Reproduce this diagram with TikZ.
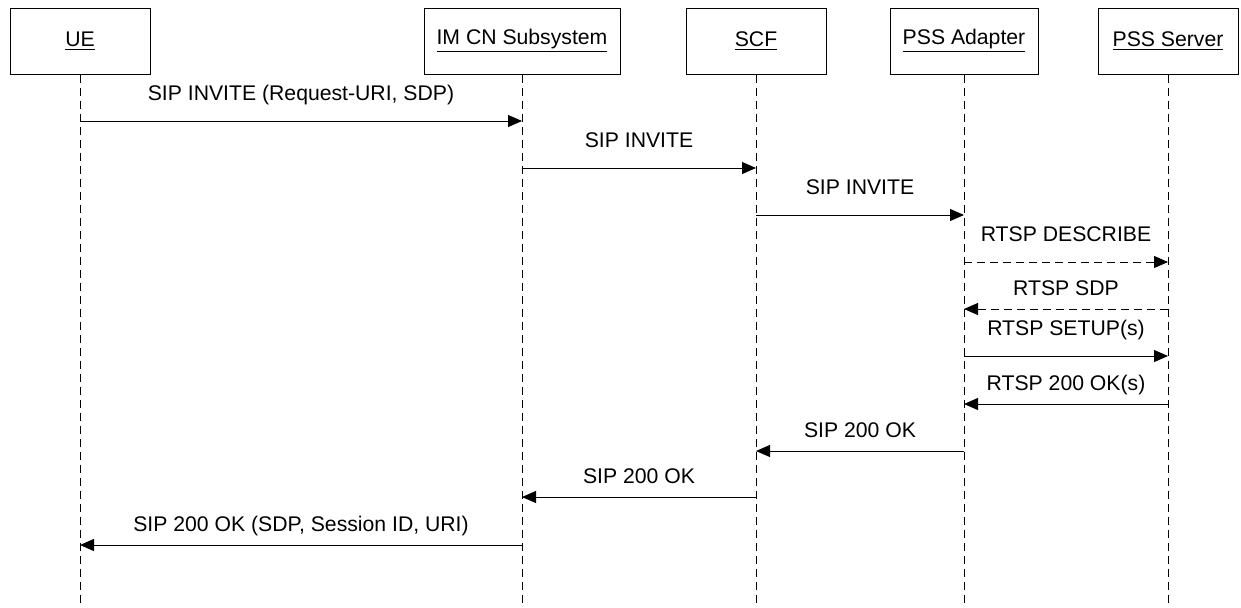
\documentclass[tikz,border=0pt]{standalone}
\usepackage{fontspec}
\setmainfont{Liberation Sans}
\usetikzlibrary{arrows.meta, positioning}

\begin{document}
\begin{tikzpicture}[x=0.5pt, y=-0.5pt,
		entity/.style={draw, line width=0.5pt, minimum height=33pt, inner sep=0pt, font=\fontsize{10.6}{12}\selectfont},
		lifeline/.style={line width=0.5pt, dash pattern=on 4pt off 2.5pt},
		msg/.style={line width=0.5pt, -{Triangle[length=7pt, width=6pt]}},
		rtsp/.style={msg, dash pattern=on 4pt off 2.5pt},
		lbl/.style={inner sep=0pt, text depth=0pt, font=\fontsize{10.6}{12}\selectfont},
		fwd/.style={lbl, above=10pt},
		back/.style={lbl, above=6.5pt}]
		\useasboundingbox (0,0) rectangle (1241,607);
		
		% entities
		\node[entity, minimum width=70pt] (ue) at (80,41) {\underline{UE}};
		\node[entity, minimum width=98pt] (ims) at (522,41) {\underline{IM CN Subsystem}};
		\node[entity, minimum width=70pt] (scf) at (756,41) {\underline{SCF}};
		\node[entity, minimum width=74pt] (pssa) at (964,41) {\underline{PSS Adapter}};
		\node[entity, minimum width=70pt] (psss) at (1168,41) {\underline{PSS Server}};
		
		% lifelines
		\coordinate (bottom) at (0,607);
		\draw[lifeline] (ue.south) -- (ue |- bottom);
		\draw[lifeline] (ims.south) -- (ims |- bottom);
		\draw[lifeline] (scf.south) -- (scf |- bottom);
		\draw[lifeline] (pssa.south) -- (pssa |- bottom);
		\draw[lifeline] (psss.south) -- (psss |- bottom);
		
		% message rows
		\coordinate (m1) at (0,121);
		\coordinate (m2) at (0,168);
		\coordinate (m3) at (0,215);
		\coordinate (m4) at (0,262);
		\coordinate (m5) at (0,309);
		\coordinate (m6) at (0,356);
		\coordinate (m7) at (0,404);
		\coordinate (m8) at (0,451);
		\coordinate (m9) at (0,497);
		\coordinate (m10) at (0,545);
		
		\draw[msg] (ue |- m1) -- node[fwd] {SIP INVITE (Request-URI, SDP)} (ims |- m1);
		\draw[msg] (ims |- m2) -- node[fwd] {SIP INVITE} (scf |- m2);
		\draw[msg] (scf |- m3) -- node[fwd] {SIP INVITE} (pssa |- m3);
		\draw[rtsp] (pssa |- m4) -- node[fwd] {RTSP DESCRIBE} (psss |- m4);
		\draw[rtsp] (psss |- m5) -- node[back] {RTSP SDP} (pssa |- m5);
		\draw[msg] (pssa |- m6) -- node[fwd] {RTSP SETUP(s)} (psss |- m6);
		\draw[msg] (psss |- m7) -- node[back] {RTSP 200 OK(s)} (pssa |- m7);
		\draw[msg] (pssa |- m8) -- node[back] {SIP 200 OK} (scf |- m8);
		\draw[msg] (scf |- m9) -- node[back] {SIP 200 OK} (ims |- m9);
		\draw[msg] (ims |- m10) -- node[back] {SIP 200 OK (SDP, Session ID, URI)} (ue |- m10);
	\end{tikzpicture}
\end{document}
